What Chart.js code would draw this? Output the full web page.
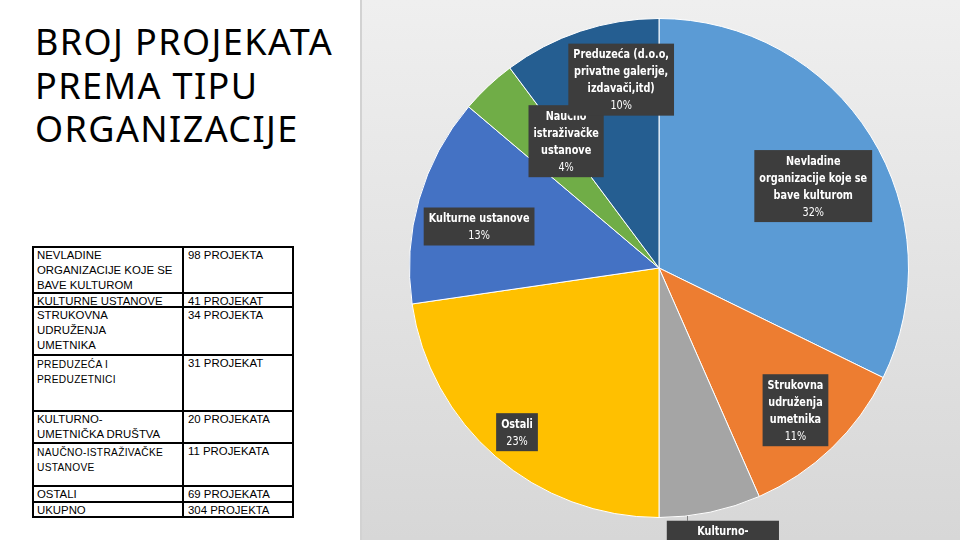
<!DOCTYPE html>
<html>
<head>
<meta charset="utf-8">
<script src="https://cdn.jsdelivr.net/npm/chart.js@4"></script>
<style>
  html, body { margin: 0; padding: 0; }
  body { width: 960px; height: 540px; position: relative; overflow: hidden; background: #fff; font-family: "Liberation Sans", Arial, sans-serif; }
  #panel { position: absolute; left: 360px; top: 0; width: 600px; height: 540px;
           background: linear-gradient(#efefef, #d7d7d7); border-left: 2px solid #d2d2d2; box-sizing: border-box; }
  #pie { position: absolute; left: 360px; top: 0; }
  h1 { position: absolute; left: 35px; top: 20px; margin: 0; font: 400 36px/43.5px "Noto Sans", sans-serif;
       letter-spacing: 1.4px; color: #000; }
  #tbl { position: absolute; left: 32px; top: 246px; width: 262px; border-bottom: 2px solid #000; }
  .row { display: flex; border: 2px solid #000; border-bottom: none; box-sizing: border-box; }
  .row div { font-size: 11.4px; line-height: 15px; color: #000; padding: 0 3px; white-space: pre-line; }
  .row .c1 { width: 142px; border-right: 2px solid #000; }
  .row .c2 { flex: 1; padding-left: 4px; }
  .row.small .c1 { font-size: 10.2px; letter-spacing: 0.3px; padding-top: 1px; }
</style>
</head>
<body>
<div id="panel"></div>
<h1>BROJ PROJEKATA<br>PREMA TIPU<br>ORGANIZACIJE</h1>
<div id="tbl"></div>
<canvas id="pie" width="600" height="540"></canvas>
<script>
// Table text (left side of the slide)
const TABLE_NAMES = ['NEVLADINE\nORGANIZACIJE KOJE SE\nBAVE KULTUROM', 'KULTURNE USTANOVE', 'STRUKOVNA\nUDRUŽENJA\nUMETNIKA',
  'PREDUZEĆA I\nPREDUZETNICI', 'KULTURNO-\nUMETNIČKA DRUŠTVA', 'NAUČNO-ISTRAŽIVAČKE\nUSTANOVE', 'OSTALI', 'UKUPNO'];
const TABLE_COUNTS = ['98 PROJEKTA', '41 PROJEKAT', '34 PROJEKTA', '31 PROJEKAT', '20 PROJEKATA', '11 PROJEKATA', '69 PROJEKATA', '304 PROJEKTA'];

// Pie data, clockwise from 12 o'clock
const CATEGORIES = ['Nevladine organizacije koje se bave kulturom', 'Strukovna udruženja umetnika', 'Kulturno-umetnička društva',
  'Ostali', 'Kulturne ustanove', 'Naučno-istraživačke ustanove', 'Preduzeća (d.o.o, privatne galerije, izdavači,itd)'];
const PROJECTS = [98, 34, 20, 69, 41, 11, 31];
const LABEL_LINES = [
  ['Nevladine', 'organizacije koje se', 'bave kulturom'],
  ['Strukovna', 'udruženja', 'umetnika'],
  ['Kulturno-', 'umetnička društva'],
  ['Ostali'],
  ['Kulturne ustanove'],
  ['Naučno', 'istraživačke', 'ustanove'],
  ['Preduzeća (d.o.o,', 'privatne galerije,', 'izdavači,itd)']
];
const COLORS = ['#5b9bd5', '#ed7d31', '#a5a5a5', '#ffc000', '#4472c4', '#70ad47', '#255e91'];

// label placement: [radius factor, angle nudge in degrees]
const LABEL_PLACE = [[0.70, 4], [0.79, 0], [1.152, -1], [0.87, 0], [0.74, -3], [0.63, 7], [0.77, 7]];
const ROW_H = [46, 14, 48, 56, 32, 43, 16, 15];

// build table
const tbl = document.getElementById('tbl');
TABLE_NAMES.forEach((name, i) => {
  const row = document.createElement('div');
  row.className = 'row' + (i === 3 || i === 5 ? ' small' : '');
  row.style.height = ROW_H[i] + 'px';
  row.innerHTML = `<div class="c1"></div><div class="c2"></div>`;
  row.children[0].textContent = name;
  row.children[1].textContent = TABLE_COUNTS[i];
  tbl.appendChild(row);
});

const total = PROJECTS.reduce((a, b) => a + b, 0);
const LABEL_FONT = '"DejaVu Sans Condensed", "Liberation Sans", sans-serif';
const SQUEEZE = 0.86;

const labelPlugin = {
  id: 'boxLabels',
  afterDatasetsDraw(chart) {
    const ctx = chart.ctx;
    const meta = chart.getDatasetMeta(0);
    meta.data.forEach((arc, i) => {
      const p = arc.getProps(['x', 'y', 'outerRadius', 'startAngle', 'endAngle'], true);
      const [f, nudge] = LABEL_PLACE[i];
      const a = (p.startAngle + p.endAngle) / 2 + nudge * Math.PI / 180;
      const cx = p.x + Math.cos(a) * p.outerRadius * f;
      const cy = p.y + Math.sin(a) * p.outerRadius * f;
      const pct = Math.round(PROJECTS[i] / total * 100) + '%';
      const lines = LABEL_LINES[i].concat([pct]);
      const lh = 17;
      const fontOf = k => (k === lines.length - 1 ? '' : 'bold ') + '12.5px ' + LABEL_FONT;
      ctx.save();
      let w = 0;
      lines.forEach((t, k) => {
        ctx.font = fontOf(k);
        w = Math.max(w, ctx.measureText(t).width * SQUEEZE);
      });
      w += 10;
      const h = lines.length * lh + 4;
      const left = cx - w / 2, top = cy - h / 2;
      if (f > 1) {
        const lx = left + 20;
        const ey = p.y + Math.sqrt(Math.max(0, p.outerRadius * p.outerRadius - (lx - p.x) * (lx - p.x)));
        ctx.strokeStyle = '#7f7f7f';
        ctx.lineWidth = 1;
        ctx.beginPath();
        ctx.moveTo(Math.round(lx) + 0.5, ey);
        ctx.lineTo(Math.round(lx) + 0.5, top);
        ctx.stroke();
      }
      ctx.fillStyle = '#3d3d3d';
      ctx.fillRect(left, top, w, h);
      ctx.fillStyle = '#fff';
      ctx.textAlign = 'center';
      ctx.textBaseline = 'middle';
      lines.forEach((t, k) => {
        ctx.font = fontOf(k);
        ctx.save();
        ctx.translate(cx, top + 2 + lh * k + lh / 2 + 1);
        ctx.scale(SQUEEZE, 1);
        ctx.fillText(t, 0, 0);
        ctx.restore();
      });
      ctx.restore();
    });
  }
};

new Chart(document.getElementById('pie'), {
  type: 'pie',
  data: {
    labels: CATEGORIES,
    datasets: [{
      data: PROJECTS,
      backgroundColor: COLORS,
      borderColor: '#ffffff',
      borderWidth: 1
    }]
  },
  options: {
    responsive: false,
    animation: false,
    layout: { padding: { left: 49, right: 51, top: 18, bottom: 22 } },
    plugins: { legend: { display: false }, tooltip: { enabled: false } }
  },
  plugins: [labelPlugin]
});
</script>
</body>
</html>
